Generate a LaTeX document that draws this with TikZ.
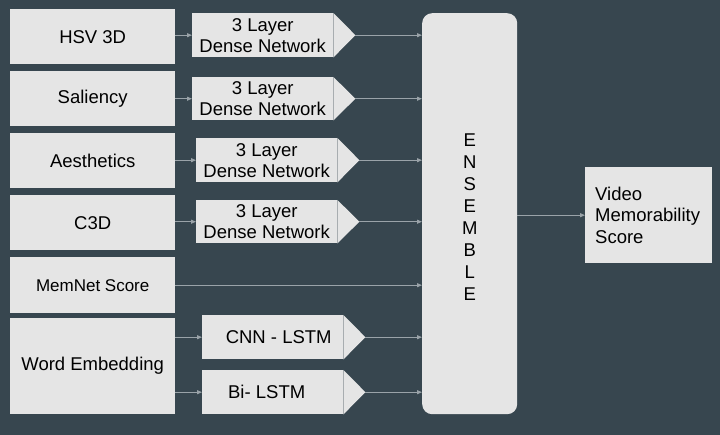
\documentclass[tikz,border=0pt]{standalone}
\usepackage{fontspec}
\setmainfont{Liberation Sans}
\usetikzlibrary{arrows.meta,calc}

\definecolor{slate}{HTML}{37464F}
\definecolor{boxgray}{HTML}{E5E5E5}
\definecolor{wire}{HTML}{9AA3A9}

\tikzset{
  feat/.style={fill=boxgray, anchor=north west, inner sep=0pt, minimum width=165pt,
    font=\fontsize{18.5}{21}\selectfont},
  dense/.style={fill=boxgray, anchor=north west, inner sep=0pt, minimum width=141pt,
    align=center, font=\fontsize{18.5}{21}\selectfont},
  conn/.style={wire, line width=0.9pt, -{Triangle[length=5pt,width=4pt]}}
}

\begin{document}
\begin{tikzpicture}[x=1pt,y=-1pt]

% Background
\fill[slate] (0,0) rectangle (720,435);
\useasboundingbox (0,0) rectangle (720,435);

% Feature boxes
\node[feat, minimum height=55pt] (hsv) at (10,9) {HSV 3D};
\node[feat, minimum height=55pt] (sal) at (10,71) {Saliency};
\node[feat, minimum height=55pt] (aes) at (10,133) {Aesthetics};
\node[feat, minimum height=55pt] (c3d) at (10,195) {C3D};
\node[feat, minimum height=56pt, font=\fontsize{17}{20}\selectfont] (mem) at (10,257) {MemNet Score};
\node[feat, minimum height=96pt] (word) at (10,318) {Word Embedding};

% Networks
\node[dense, minimum height=44pt] (d1) at (192,13) {3 Layer\\Dense Network};
\node[dense, minimum height=43pt] (d2) at (192,77) {3 Layer\\Dense Network};
\node[dense, minimum height=44pt] (d3) at (196,138) {3 Layer\\Dense Network};
\node[dense, minimum height=43pt] (d4) at (196,200) {3 Layer\\Dense Network};
\node[dense, minimum height=44pt] (cnn) at (202,315) {\hspace{12pt}CNN - LSTM};
\node[dense, minimum height=44pt] (bi) at (202,370) {Bi- LSTM\hspace{12pt}};

% Pointed ends
\foreach \n in {d1,d2,d3,d4,cnn,bi}
  \fill[boxgray] (\n.north east) -- ($(\n.east)+(22,0)$) coordinate (\n tip) -- (\n.south east) -- cycle;

% Ensemble and output
\node[fill=boxgray, rounded corners=10pt, anchor=north west, minimum width=95pt, minimum height=401pt,
  font=\fontsize{18.5}{22}\selectfont] (ens) at (422,13)
  {\raisebox{-5pt}[\height][\depth]{\begin{tabular}{@{}c@{}}E\\N\\S\\E\\M\\B\\L\\E\end{tabular}}};
\node[fill=boxgray, anchor=north west, text width=107pt, inner xsep=10pt, minimum height=96pt,
  align=left, font=\fontsize{18.5}{21.5}\selectfont] (vid) at (585,167) {Video\\Memorability\\Score};

% Connectors
\draw[conn] (hsv.east |- d1.west) -- (d1.west);
\draw[conn] (sal.east |- d2.west) -- (d2.west);
\draw[conn] (aes.east |- d3.west) -- (d3.west);
\draw[conn] (c3d.east |- d4.west) -- (d4.west);
\draw[conn] (word.east |- cnn.west) -- (cnn.west);
\draw[conn] (word.east |- bi.west) -- (bi.west);

\foreach \n in {d1,d2,d3,d4,cnn,bi}
  \draw[conn] (\n tip) -- (ens.west |- \n tip);
\draw[conn] (mem.east) -- (ens.west |- mem.east);
\draw[conn] (ens.east |- vid.west) -- (vid.west);

\end{tikzpicture}
\end{document}
